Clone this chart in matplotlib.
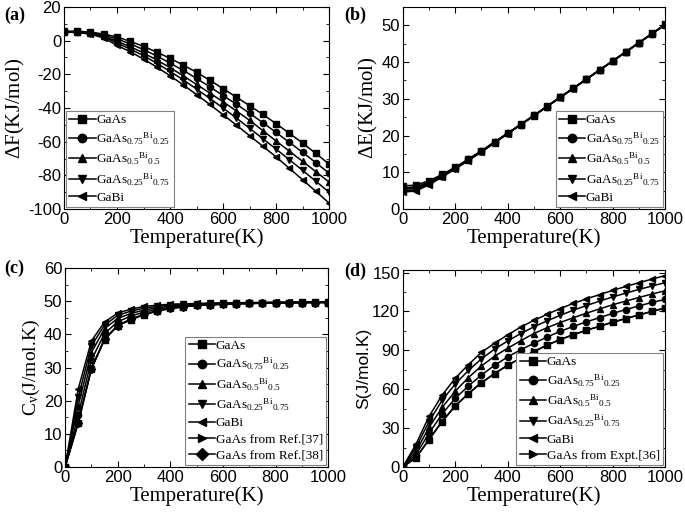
import numpy as np
import matplotlib.pyplot as plt

plt.rcParams['mathtext.fontset'] = 'custom'
plt.rcParams['mathtext.rm'] = 'Liberation Serif'
plt.rcParams['mathtext.it'] = 'Liberation Serif:italic'
plt.rcParams['xtick.direction'] = 'in'
plt.rcParams['ytick.direction'] = 'in'
plt.rcParams['axes.unicode_minus'] = False

T = np.arange(0, 1001, 50)

names = ['GaAs', 'GaAs$_{0.75}{}^{\\rm Bi}{}_{0.25}$', 'GaAs$_{0.5}{}^{\\rm Bi}{}_{0.5}$',
         'GaAs$_{0.25}{}^{\\rm Bi}{}_{0.75}$', 'GaBi']
markers = ['s', 'o', '^', 'v', '<']

# (a) free energy, KJ/mol
dF = [
    [5.5, 5.6, 5.1, 3.9, 2.2, -0.4, -3.4, -6.8, -10.5, -14.5, -18.8, -23.5, -28.5, -33.5, -38.6, -43.8, -49.3, -55.0, -60.8, -67.0, -73.3],
    [5.4, 5.4, 4.8, 3.3, 1.0, -1.9, -5.3, -9.1, -13.3, -17.7, -22.4, -27.4, -32.6, -37.7, -43.1, -48.7, -54.5, -60.4, -66.3, -72.5, -78.7],
    [5.3, 5.3, 4.5, 2.7, -0.4, -3.6, -7.3, -11.5, -16.0, -20.9, -26.0, -31.1, -36.3, -41.7, -47.3, -53.4, -59.6, -65.6, -71.7, -77.8, -84.0],
    [5.2, 5.1, 4.2, 2.2, -1.4, -5.0, -8.9, -13.4, -18.2, -23.3, -28.7, -34.3, -40.0, -45.9, -52.0, -58.2, -64.4, -70.7, -77.0, -83.5, -90.0],
    [5.0, 4.9, 3.8, 1.6, -2.8, -6.6, -10.9, -15.7, -20.8, -26.3, -32.0, -37.9, -44.0, -50.1, -56.4, -62.7, -69.0, -75.8, -82.6, -89.5, -96.4],
]

# (b) internal energy, KJ/mol
dE = [
    [6.3, 6.5, 7.7, 9.4, 11.4, 13.6, 15.9, 18.3, 20.7, 23.1, 25.5, 28.0, 30.5, 32.9, 35.4, 37.9, 40.3, 42.8, 45.3, 47.8, 50.3],
    [5.8, 6.0, 7.4, 9.2, 11.2, 13.5, 15.8, 18.2, 20.6, 23.0, 25.5, 27.9, 30.4, 32.9, 35.4, 37.8, 40.3, 42.8, 45.3, 47.7, 50.2],
    [5.4, 5.6, 7.1, 9.0, 11.1, 13.4, 15.7, 18.1, 20.6, 23.0, 25.4, 27.9, 30.4, 32.9, 35.3, 37.8, 40.3, 42.8, 45.2, 47.7, 50.2],
    [5.0, 5.2, 6.8, 8.8, 11.0, 13.3, 15.6, 18.1, 20.5, 23.0, 25.4, 27.9, 30.4, 32.8, 35.3, 37.8, 40.3, 42.7, 45.2, 47.7, 50.2],
    [4.6, 4.9, 6.6, 8.7, 10.9, 13.2, 15.5, 18.0, 20.5, 22.9, 25.4, 27.9, 30.3, 32.8, 35.3, 37.8, 40.2, 42.7, 45.2, 47.7, 50.2],
]

# (c) heat capacity, J/mol.K
Cv = [
    [0, 13.2, 29.5, 38.4, 42.6, 44.4, 45.9, 47.0, 47.8, 48.3, 48.7, 48.9, 49.1, 49.2, 49.3, 49.4, 49.5, 49.5, 49.6, 49.6, 49.6],
    [0, 15.8, 32.3, 40.2, 43.8, 45.5, 46.7, 47.5, 48.2, 48.6, 48.9, 49.1, 49.2, 49.3, 49.4, 49.5, 49.5, 49.6, 49.6, 49.6, 49.7],
    [0, 18.5, 34.5, 41.7, 44.8, 46.3, 47.3, 48.0, 48.5, 48.8, 49.0, 49.2, 49.3, 49.4, 49.5, 49.5, 49.6, 49.6, 49.6, 49.7, 49.7],
    [0, 21.0, 36.5, 42.8, 45.7, 47.0, 47.9, 48.4, 48.8, 49.0, 49.2, 49.3, 49.4, 49.5, 49.5, 49.6, 49.6, 49.6, 49.7, 49.7, 49.7],
    [0, 23.5, 38.0, 43.7, 46.4, 47.6, 48.4, 48.8, 49.1, 49.2, 49.3, 49.4, 49.5, 49.5, 49.6, 49.6, 49.7, 49.7, 49.7, 49.7, 49.7],
]
Cv_ref37 = [0, 13.5, 29.8, 38.6, 42.7, 44.6, 46.0, 47.1, 47.9, 48.3, 48.7, 48.9, 49.1, 49.2, 49.3, 49.4, 49.5, 49.5, 49.6, 49.6, 49.6]
Cv_ref38 = [0, 13.4, 29.6, 38.5, 42.6, 44.5, 46.0, 47.0, 47.8, 48.3, 48.7, 48.9, 49.1, 49.2, 49.3, 49.4, 49.5, 49.5, 49.6, 49.6, 49.6]

# (d) entropy, J/mol.K
S = [
    [0, 7.0, 21.0, 35.0, 47.0, 56.5, 65.0, 72.0, 78.5, 84.0, 89.0, 94.0, 98.3, 102.0, 105.5, 108.5, 111.7, 114.5, 117.3, 120.0, 122.7],
    [0, 9.5, 26.0, 41.0, 53.0, 62.5, 71.0, 78.5, 85.0, 90.5, 95.5, 100.3, 104.7, 108.5, 112.0, 115.3, 118.5, 121.5, 124.3, 127.0, 129.3],
    [0, 12.0, 30.5, 46.0, 58.5, 69.0, 78.0, 85.5, 91.7, 97.5, 103.0, 107.5, 111.5, 115.2, 118.7, 122.0, 125.2, 128.0, 130.8, 133.5, 136.0],
    [0, 15.0, 35.0, 51.5, 64.0, 74.5, 83.5, 91.0, 97.3, 103.0, 108.2, 112.8, 117.0, 121.0, 124.6, 128.0, 131.2, 134.2, 137.0, 139.7, 142.3],
    [0, 17.5, 39.0, 55.5, 68.5, 79.0, 88.5, 95.5, 102.0, 108.0, 113.2, 117.8, 122.3, 126.2, 129.8, 133.0, 136.3, 139.3, 142.2, 145.0, 147.7],
]
S_expt36 = [0, 7.2, 21.3, 35.3, 47.2, 56.7, 65.2, 72.2, 78.6, 84.1, 89.2, 94.1, 98.4, 102.1, 105.6, 108.6, 111.8, 114.6, 117.4, 120.1, 122.8]

serif = 'Liberation Serif'
sans = 'Liberation Sans'

fig = plt.figure(figsize=(6.85, 5.17), dpi=100)
axa = fig.add_axes([0.0934, 0.5957, 0.387, 0.3908])
axb = fig.add_axes([0.588, 0.5957, 0.383, 0.3908])
axc = fig.add_axes([0.095, 0.0967, 0.384, 0.3849])
axd = fig.add_axes([0.588, 0.0967, 0.383, 0.381])


def draw(ax, data, extra=()):
    for vals, name, m in zip(data, names, markers):
        ax.plot(T, vals, color='black', lw=1.1, marker=m, ms=4.5, label=name)
    for vals, name, m in extra:
        ax.plot(T, vals, color='black', lw=1.1, marker=m, ms=4.5, label=name)


def style(ax, ylim, yticks, yminor, ylabel, yfont=serif, ysize=15):
    ax.set_xlim(0, 1000)
    ax.set_ylim(*ylim)
    ax.set_xticks(np.arange(0, 1001, 200))
    ax.set_xticks(np.arange(100, 1000, 200), minor=True)
    ax.set_yticks(yticks)
    ax.set_yticks(yminor, minor=True)
    ax.tick_params(which='both', top=True, right=True, labelsize=12, pad=2)
    ax.tick_params(which='major', length=4)
    ax.tick_params(which='minor', length=2.5)
    for lab in ax.get_xticklabels() + ax.get_yticklabels():
        lab.set_fontfamily(sans)
    ax.set_xlabel('Temperature(K)', fontsize=15, fontfamily=serif, labelpad=1)
    ax.set_ylabel(ylabel, fontsize=ysize, fontfamily=yfont, labelpad=1)


def leg(ax, loc):
    lg = ax.legend(loc=loc, prop={'family': serif, 'size': 9.5}, fancybox=False,
                   edgecolor='gray', framealpha=1, borderaxespad=0.15, handlelength=2.0,
                   handletextpad=0.05, labelspacing=0.3, borderpad=0.25, markerscale=1.35)
    lg.get_frame().set_linewidth(0.8)


draw(axa, dF)
style(axa, (-100, 20), np.arange(-100, 21, 20), np.arange(-90, 20, 20), '$\\Delta$F(KJ/mol)')
leg(axa, 'lower left')

draw(axb, dE)
style(axb, (0, 55), np.arange(0, 51, 10), np.arange(5, 55, 10), '$\\Delta$E(KJ/mol)')
leg(axb, 'lower right')

draw(axc, Cv, [(Cv_ref37, 'GaAs from Ref.[37]', '>'), (Cv_ref38, 'GaAs from Ref.[38]', 'D')])
style(axc, (0, 60), np.arange(0, 61, 10), np.arange(5, 60, 10), 'C$_{\\rm v}$(J/mol.K)', ysize=14)
leg(axc, 'lower right')

draw(axd, S, [(S_expt36, 'GaAs from Expt.[36]', '>')])
style(axd, (0, 152), np.arange(0, 151, 30), np.arange(15, 150, 30), 'S(J/mol.K)', yfont=sans, ysize=12.5)
leg(axd, 'lower right')

for txt, x, y in [('(a)', 0.006, 0.97), ('(b)', 0.503, 0.97), ('(c)', 0.006, 0.48), ('(d)', 0.503, 0.475)]:
    fig.text(x, y, txt, fontsize=13, fontweight='bold', fontfamily=serif, va='center')

fig.savefig('out.png', dpi=100)
